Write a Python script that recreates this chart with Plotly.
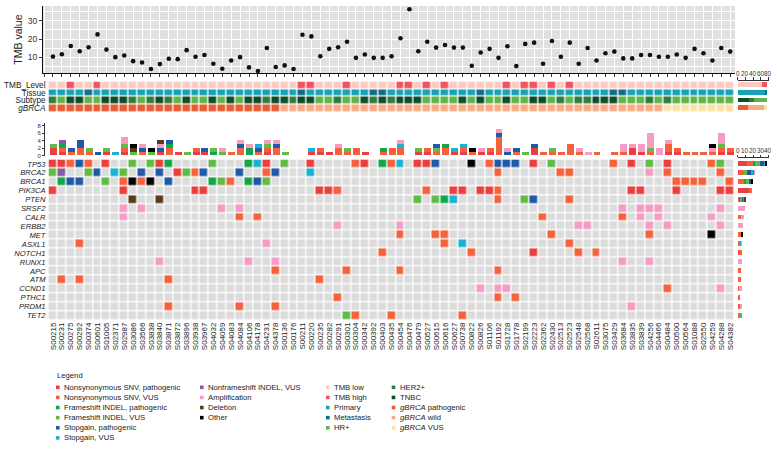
import plotly.graph_objects as go

W, H = 777, 451
FONT = "Liberation Sans, Arial, sans-serif"

# ---------------- data ----------------
samples = ["S00215", "S00231", "S00275", "S00292", "S00374", "S00601", "S01005", "S02371", "S02987", "S03086",
           "S03566", "S03838", "S03840", "S03871", "S03872", "S03896", "S03938", "S03967", "S04032", "S04059",
           "S04083", "S04084", "S04106", "S04178", "S04231", "S04378", "S00136", "S00176", "S00211", "S00220",
           "S00235", "S00282", "S00291", "S00301", "S00304", "S00342", "S00392", "S00403", "S00435", "S00454",
           "S00476", "S00479", "S00527", "S00615", "S00616", "S00627", "S00738", "S00822", "S00826", "S01106",
           "S01192", "S01728", "S01778", "S02199", "S02223", "S02362", "S02430", "S02513", "S02523", "S02548",
           "S02568", "S02611", "S03075", "S03429", "S03684", "S03835", "S03839", "S04256", "S04466", "S00484",
           "S00500", "S00564", "S01088", "S02550", "S04259", "S04288", "S04382"]

tmb_value = [10.5, 11.8, 16.3, 13.4, 15.6, 22.6, 14.3, 10.2, 11.1, 8.0,
             7.3, 3.7, 6.4, 9.3, 9.1, 14.0, 10.4, 11.4, 6.6, 3.9,
             8.4, 10.2, 4.6, 2.6, 15.2, 4.8, 5.7, 3.7, 22.4, 21.5,
             10.7, 14.7, 15.6, 18.6, 9.8, 11.6, 9.8, 9.8, 10.7, 20.5,
             36.3, 13.4, 18.6, 15.4, 16.8, 15.4, 15.4, 5.5, 12.7, 14.7,
             9.8, 16.1, 5.3, 17.4, 18.1, 6.6, 19.0, 10.4, 18.1, 6.6,
             15.2, 8.4, 12.3, 13.2, 9.5, 9.5, 11.4, 11.4, 10.4, 10.4,
             11.6, 9.8, 14.7, 12.3, 8.4, 15.2, 13.2]

# one letter per sample
tmb_level = "LLHLLHLLLL" "LLLLLLLLLL" "LLLLLLLLHH" "LLLHLLLLLH" "HLHLHLLLLL" "LHLHHLHLHL" "LLLLLLLLLL" "LLLLLLL"
tissue    = "PPPPMPPPPP" "PPPPPPPPPP" "PPPPPPPPMP" "PPPPPPMMPP" "PPPPPPPPMP" "PPPPPPPPPP" "PPPMMPPPPP" "PPPPPPP"
subtype   = "HRTTRRTTTH" "RHTHRTRRTR" "TRTTHTTHTT" "RRHRRTHTHT" "TTRRRRTRTR" "RTRRTTRHRH" "HTTTRRRHRH" "RRRRRRR"
gbrca     = "PPPPPPPPPP" "PPPPPPPPPP" "PPPPPPWWWW" "WWWWWWWWWW" "WWWWWWWWWW" "WWWWWWWWWW" "WWWWWWWWWV" "VVVVVVV"

# alteration types: code, legend label, colour
alt_codes  = ["R", "o", "G", "g", "B", "c", "u", "A", "D", "K"]
alt_labels = ["Nonsynonymous SNV, pathogenic", "Nonsynonymous SNV, VUS", "Frameshift INDEL, pathogenic",
              "Frameshift INDEL, VUS", "Stopgain, pathogenic", "Stopgain, VUS", "Nonframeshift INDEL, VUS",
              "Amplification", "Deletion", "Other"]
alt_colors = ["#EA3F3F", "#F5613B", "#14A54B", "#63BB47", "#1E5AA8", "#1AB2D4", "#8A56A6",
              "#F59BC4", "#5B3A1C", "#000000"]

genes = ["TP53", "BRCA2", "BRCA1", "PIK3CA", "PTEN", "SRSF2", "CALR", "ERBB2", "MET", "ASXL1",
         "NOTCH1", "RUNX1", "APC", "ATM", "CCND1", "PTHC1", "PRDM1", "TET2"]

# sample indices carrying each alteration type, per gene
TP53 = {"R": [0, 1, 6, 12, 24, 29, 35, 41, 42, 54, 65, 69], "o": [2, 4, 34, 38, 49, 63, 74],
        "B": [3, 43, 50, 51, 52], "g": [9, 11, 18, 26, 56, 67, 75], "G": [13, 22, 37], "c": [23, 39], "K": [47]}
BRCA2 = {"g": [0, 4, 8, 15], "u": [1], "B": [5, 10, 12, 17, 21, 25], "c": [7, 29], "R": [14],
         "o": [16, 24, 50, 57, 58, 69, 75], "A": [67]}
BRCA1 = {"G": [1, 18, 22], "B": [2, 3, 13, 23], "g": [6, 19, 24], "o": [8, 10, 20, 70, 71, 72, 73, 76], "K": [9, 11]}
PIK3CA = {"R": [0, 8, 16, 17, 30, 31, 45, 46, 48, 49, 65, 66, 70, 75, 76], "o": [32, 42, 50]}
PTEN = {"D": [9, 12], "g": [41, 43, 53], "G": [44], "c": [45], "o": [50, 58], "B": [54]}
SRSF2 = {"A": [8, 10, 19, 21, 64, 66, 67, 68, 75]}
CALR = {"A": [8, 66, 68, 74], "o": [21, 23, 55, 64]}
ERBB2 = {"A": [32, 39, 59, 60, 67, 69, 75]}
MET = {"o": [39, 43, 44, 56, 67], "K": [74]}
ASXL1 = {"o": [3, 44, 58], "A": [24], "c": [46]}
NOTCH1 = {"o": [37, 47, 59, 61], "R": [54]}
RUNX1 = {"A": [12, 22, 25, 64, 67]}
APC = {"o": [25, 33, 39, 50]}
ATM = {"o": [1, 3, 13, 30]}
CCND1 = {"A": [48, 50, 51, 75], "o": [69]}
PTHC1 = {"o": [32, 50, 52]}
PRDM1 = {"o": [13, 21, 25], "A": [65]}
TET2 = {"g": [33], "o": [34, 38, 46]}
gene_alts = [TP53, BRCA2, BRCA1, PIK3CA, PTEN, SRSF2, CALR, ERBB2, MET, ASXL1,
             NOTCH1, RUNX1, APC, ATM, CCND1, PTHC1, PRDM1, TET2]

# annotation tracks
track_names = ["TMB_Level", "Tissue", "Subtype", "<i>gBRCA</i>"]
track_data = [tmb_level, tissue, subtype, gbrca]
track_cats = [["L", "H"], ["P", "M"], ["T", "H", "R"], ["P", "W", "V"]]
track_cols = [["#FBCAC2", "#F0545E"], ["#17A2B8", "#106F86"], ["#0C4D2A", "#2F7D3D", "#5DB548"],
              ["#EA5B31", "#F9AB84", "#FDE1A8"]]

gene_side_ticks = [0, 10, 20, 30, 40]
track_side_ticks = [0, 20, 40, 60, 80]

EMPTY = "#DCDCDC"

# ---------------- helpers ----------------
def X(px):
    return px / W


def Y(py):
    return 1 - py / H


def discrete_scale(colors):
    n = len(colors)
    cs = []
    for i, c in enumerate(colors):
        cs.append([i / n, c])
        cs.append([(i + 1) / n, c])
    return cs


N = len(samples)
cols = list(range(N))

fig = go.Figure()

# ---------------- TMB scatter ----------------
fig.add_trace(go.Scatter(x=cols, y=tmb_value, mode="markers", xaxis="x", yaxis="y",
                         marker=dict(color="#111111", size=4.6), hoverinfo="skip"))

# ---------------- annotation tracks heatmap ----------------
tcolors, tz = [], []
for cats, colrs, data in zip(track_cats, track_cols, track_data):
    base = len(tcolors)
    tcolors += colrs
    tz.append([base + cats.index(ch) for ch in data])
fig.add_trace(go.Heatmap(z=tz, x=cols, y=list(range(4)), xaxis="x2", yaxis="y2",
                         colorscale=discrete_scale(tcolors), zmin=-0.5, zmax=len(tcolors) - 0.5,
                         showscale=False, xgap=1.3, ygap=1.2, hoverinfo="skip"))

# ---------------- oncoprint matrix ----------------
mcolors = [EMPTY] + alt_colors
mz = []
for alts in gene_alts:
    row = [0] * N
    for code, idx in alts.items():
        for j in idx:
            row[j] = alt_codes.index(code) + 1
    mz.append(row)
fig.add_trace(go.Heatmap(z=mz, x=cols, y=list(range(len(genes))), xaxis="x4", yaxis="y4",
                         colorscale=discrete_scale(mcolors), zmin=-0.5, zmax=len(mcolors) - 0.5,
                         showscale=False, xgap=1.3, ygap=1.3, hoverinfo="skip"))

# ---------------- per-sample stacked bars ----------------
for t, code in enumerate(alt_codes):
    counts = [0] * N
    for alts in gene_alts:
        for j in alts.get(code, []):
            counts[j] += 1
    fig.add_trace(go.Bar(x=cols, y=counts, xaxis="x3", yaxis="y3", width=0.78,
                         marker=dict(color=alt_colors[t], line=dict(width=0)), hoverinfo="skip"))

# ---------------- per-gene side bars ----------------
for t, code in enumerate(alt_codes):
    gcount = [len(alts.get(code, [])) for alts in gene_alts]
    fig.add_trace(go.Bar(y=list(range(len(genes))), x=gcount, orientation="h", xaxis="x5", yaxis="y5",
                         width=0.55, marker=dict(color=alt_colors[t], line=dict(width=0)), hoverinfo="skip"))

# ---------------- track side bars ----------------
for r, (cats, colrs, data) in enumerate(zip(track_cats, track_cols, track_data)):
    for cat, colr in zip(cats, colrs):
        fig.add_trace(go.Bar(y=[r], x=[data.count(cat)], orientation="h", xaxis="x6", yaxis="y6",
                             width=0.62, marker=dict(color=colr, line=dict(width=0)), hoverinfo="skip"))

# ---------------- layout ----------------
HM_X = [X(48.5), X(734.6)]
HM_RANGE = [-0.5, N - 0.5]
SIDE_X = [X(737.7), X(768.6)]
TXT = "#222222"
side_tick = dict(family=FONT, size=6.4, color="#333333")

layout = dict(
    width=W, height=H, autosize=False, margin=dict(l=0, r=0, t=0, b=0),
    paper_bgcolor="white", plot_bgcolor="rgba(0,0,0,0)", showlegend=False, barmode="stack",
    bargap=0, font=dict(family=FONT, size=8, color=TXT),
    # scatter
    xaxis=dict(domain=[X(43), X(735)], range=[(43 - 52.96) / 8.911, (735 - 52.96) / 8.911], anchor="y",
               tickmode="linear", tick0=0, dtick=1, showticklabels=False, ticks="outside", ticklen=3,
               tickcolor="#333333", tickwidth=0.8, showgrid=True, gridcolor="white", gridwidth=1,
               showline=True, linecolor="#111111", linewidth=1.2, zeroline=False),
    yaxis=dict(domain=[Y(73), Y(5)], range=[1.35, 38.1], anchor="x", tickvals=[10, 20, 30],
               ticks="outside", ticklen=3, tickcolor="#333333", tickfont=dict(family=FONT, size=8.5, color="#333333"),
               showgrid=True, gridcolor="white", gridwidth=1.1,
               minor=dict(tickvals=[5, 15, 25, 35], showgrid=True, gridcolor="white", gridwidth=0.5, ticks=""),
               showline=True, linecolor="#111111", linewidth=1.2, zeroline=False),
    # tracks
    xaxis2=dict(domain=HM_X, range=HM_RANGE, anchor="y2", visible=False),
    yaxis2=dict(domain=[Y(112), Y(81.2)], range=[3.5, -0.5], anchor="x2", tickvals=list(range(4)),
                ticktext=track_names, ticks="", showgrid=False, zeroline=False, showline=False,
                tickfont=dict(family=FONT, size=8.2, color=TXT), ticklabelstandoff=2),
    # per-sample bars
    xaxis3=dict(domain=HM_X, range=HM_RANGE, anchor="y3", visible=False),
    yaxis3=dict(domain=[Y(156), Y(123.3)], range=[0, 8.63], anchor="free", position=X(44),
                tickvals=[0, 2, 4, 6, 8], ticks="outside", ticklen=2, tickwidth=0.8, tickcolor="#333333",
                showline=True, linecolor="#333333", linewidth=0.8, showgrid=False, zeroline=False,
                tickfont=dict(family=FONT, size=6, color="#333333")),
    # matrix
    xaxis4=dict(domain=HM_X, range=HM_RANGE, anchor="y4", tickvals=cols, ticktext=samples, tickangle=-90,
                ticks="", showgrid=False, zeroline=False, showline=False,
                tickfont=dict(family=FONT, size=8, color=TXT)),
    yaxis4=dict(domain=[Y(321.8), Y(159.8)], range=[len(genes) - 0.5, -0.5], anchor="x4",
                tickvals=list(range(len(genes))), ticktext=["<i>%s</i>" % g for g in genes], ticks="",
                showgrid=False, zeroline=False, showline=False, ticklabelstandoff=2,
                tickfont=dict(family=FONT, size=7.6, color=TXT)),
    # gene side bars
    xaxis5=dict(domain=SIDE_X, range=[0, 40.4], anchor="free", position=Y(157.3), side="top",
                tickvals=gene_side_ticks, showticklabels=False, ticks="outside", ticklen=2.5, tickwidth=0.8,
                tickcolor="#333333", showline=True, linecolor="#333333", linewidth=0.8, showgrid=False,
                zeroline=False),
    yaxis5=dict(domain=[Y(321.8), Y(159.8)], range=[len(genes) - 0.5, -0.5], anchor="x5", visible=False),
    # track side bars
    xaxis6=dict(domain=SIDE_X, range=[0, 80.8], anchor="free", position=Y(79.3), side="top",
                tickvals=track_side_ticks, showticklabels=False, ticks="outside", ticklen=2.5, tickwidth=0.8,
                tickcolor="#333333", showline=True, linecolor="#333333", linewidth=0.8, showgrid=False,
                zeroline=False),
    yaxis6=dict(domain=[Y(112), Y(81.2)], range=[3.5, -0.5], anchor="x6", visible=False),
)
fig.update_layout(**layout)

shapes = [dict(type="rect", xref="paper", yref="paper", x0=X(43), x1=X(735), y0=Y(73), y1=Y(5),
               fillcolor="#E0E0E0", line=dict(width=0), layer="below")]
annotations = [dict(text="TMB value", xref="paper", yref="paper", x=X(18), y=Y(39), textangle=-90,
                    showarrow=False, font=dict(family=FONT, size=10.5, color=TXT),
                    xanchor="center", yanchor="middle")]

# side-axis tick labels (placed through the axes' own data coordinates)
for v in gene_side_ticks:
    annotations.append(dict(text=str(v), xref="x5", yref="paper", x=v, y=Y(151), showarrow=False,
                            xanchor="center", yanchor="middle", font=side_tick))
for v in track_side_ticks:
    annotations.append(dict(text=str(v), xref="x6", yref="paper", x=v, y=Y(73), showarrow=False,
                            xanchor="center", yanchor="middle", font=side_tick))

# ---------------- legend (manual) ----------------
LEG_SIZE = 7.7
annotations.append(dict(text="Legend", xref="paper", yref="paper", x=X(54.5), y=Y(378), showarrow=False,
                        xanchor="left", yanchor="middle", font=dict(family=FONT, size=LEG_SIZE, color=TXT)))
leg_items = [(alt_labels[i], alt_colors[i]) for i in range(6)]
leg_items2 = [(alt_labels[i], alt_colors[i]) for i in range(6, 10)]
leg_items3 = [("TMB low", track_cols[0][0]), ("TMB high", track_cols[0][1]), ("Primary", track_cols[1][0]),
              ("Metastasis", track_cols[1][1]), ("HR+", track_cols[2][2])]
leg_items4 = [("HER2+", track_cols[2][1]), ("TNBC", track_cols[2][0]),
              ("<i>gBRCA</i> pathogenic", track_cols[3][0]), ("<i>gBRCA</i> wild", track_cols[3][1]),
              ("<i>gBRCA</i> VUS", track_cols[3][2])]
row_y = [389.8, 400.0, 410.2, 420.4, 430.6, 440.8]
for x0, items in [(56, leg_items), (200, leg_items2), (326, leg_items3), (391.7, leg_items4)]:
    for k, (lab, colr) in enumerate(items):
        cy = row_y[k]
        shapes.append(dict(type="rect", xref="paper", yref="paper", x0=X(x0), x1=X(x0 + 3.6),
                           y0=Y(cy + 1.8), y1=Y(cy - 1.8), fillcolor=colr, line=dict(width=0)))
        annotations.append(dict(text=lab, xref="paper", yref="paper", x=X(x0 + 6), y=Y(cy),
                                showarrow=False, xanchor="left", yanchor="middle",
                                font=dict(family=FONT, size=LEG_SIZE, color=TXT)))

fig.update_layout(shapes=shapes, annotations=annotations)
fig.write_html("out.html", config={"displayModeBar": False},
               post_script="document.body.style.margin='0';document.body.style.overflow='hidden';")
